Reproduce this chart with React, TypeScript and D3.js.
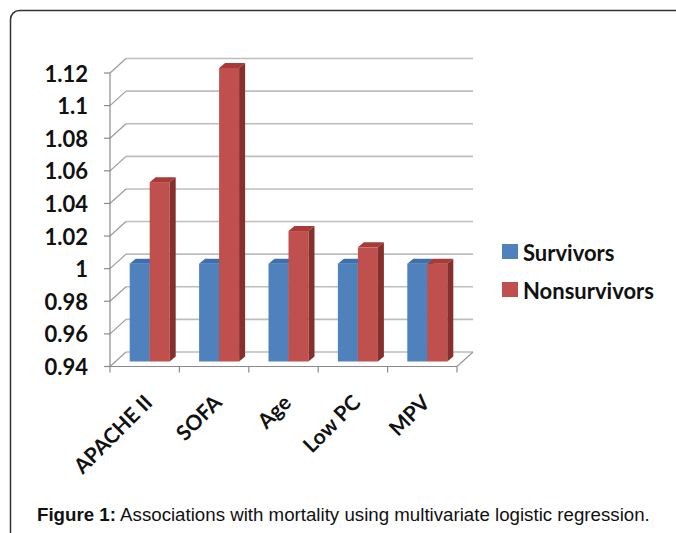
import React from "react";
import * as d3 from "d3";

const categories = ["APACHE II", "SOFA", "Age", "Low PC", "MPV"];
const seriesNames = ["Survivors", "Nonsurvivors"];
const survivors = [1, 1, 1, 1, 1];
const nonsurvivors = [1.05, 1.12, 1.02, 1.01, 1.0];
const yTicks = [0.94, 0.96, 0.98, 1, 1.02, 1.04, 1.06, 1.08, 1.1, 1.12];

const W = 676;
const H = 533;

const colors = [
  { front: "#4F81BD", top: "#3F6FAD", side: "#34598C" },
  { front: "#C0504D", top: "#A73B38", side: "#86302E" },
];

export default function App() {
  const y = d3.scaleLinear().domain([0.94, 1.12]).range([366.5, 73]);
  const x = d3.scaleBand<string>().domain(categories).range([110, 457]).padding(0);
  const sx = d3.scaleBand<string>().domain(seriesNames).range([0, 40]).padding(0);
  const DX = 16, DY = -14.5; // wall depth
  const BX = 5, BY = -5; // bar shift into depth
  const dX = 6, dY = -5; // bar depth
  const bw = x.bandwidth();
  const data = [survivors, nonsurvivors];
  const font = "Lato, 'Open Sans', sans-serif";
  const y0 = y(0.94);

  return (
    <svg width={W} height={H} style={{ position: "absolute", left: 0, top: 0 }} fontFamily={font}>
      <rect x={0} y={0} width={W} height={H} fill="#fff" />
      <rect x={10.5} y={10.5} width={700} height={560} rx={9} fill="none" stroke="#333" strokeWidth={1.5} />
      {/* back wall gridlines */}
      {yTicks.map((t) => (
        <g key={t}>
          <line x1={110 + DX} x2={457 + DX} y1={y(t) + DY} y2={y(t) + DY} stroke="#bdbdbd" strokeWidth={1.6} />
          <line x1={110} x2={110 + DX} y1={y(t)} y2={y(t) + DY} stroke="#9a9a9a" strokeWidth={1.2} />
          <line x1={104} x2={110} y1={y(t)} y2={y(t)} stroke="#8a8a8a" strokeWidth={1.2} />
          <text x={88} y={y(t)} textAnchor="end" dominantBaseline="central" fontSize={22} fontWeight={700} fill="#111">
            {String(t)}
          </text>
        </g>
      ))}
      {/* floor */}
      <line x1={110} x2={457} y1={y0} y2={y0} stroke="#8a8a8a" strokeWidth={1.2} />
      <line x1={457} x2={457 + DX} y1={y0} y2={y0 + DY} stroke="#9a9a9a" strokeWidth={1.2} />
      <line x1={110} x2={110} y1={y(1.12)} y2={y0} stroke="#8a8a8a" strokeWidth={1.2} />
      {categories.map((c) => (
        <line key={c} x1={(x(c) as number) + bw} x2={(x(c) as number) + bw} y1={y0} y2={y0 + 6} stroke="#8a8a8a" strokeWidth={1.2} />
      ))}
      <line x1={110} x2={110} y1={y0} y2={y0 + 6} stroke="#8a8a8a" strokeWidth={1.2} />
      {/* bars */}
      {categories.map((c, i) => {
        const gx = (x(c) as number) + (bw - sx.range()[1]) / 2 + BX;
        return (
          <g key={c}>
            {seriesNames.map((s, k) => {
              const v = data[k][i];
              const x0 = gx + (sx(s) as number);
              const x1 = x0 + sx.bandwidth();
              const yt = y(v) + BY;
              const yb = y0 + BY;
              const col = colors[k];
              return (
                <g key={s}>
                  <rect x={x0} y={yt} width={x1 - x0} height={yb - yt} fill={col.front} />
                  <polygon points={`${x0},${yt} ${x0 + dX},${yt + dY} ${x1 + dX},${yt + dY} ${x1},${yt}`} fill={col.top} />
                  <polygon points={`${x1},${yt} ${x1 + dX},${yt + dY} ${x1 + dX},${yb + dY} ${x1},${yb}`} fill={col.side} />
                </g>
              );
            })}
          </g>
        );
      })}
      {/* x labels */}
      {categories.map((c) => {
        const cx = (x(c) as number) + bw / 2 + 9;
        const cy = 404;
        return (
          <text key={c} x={cx} y={cy} transform={`rotate(-45 ${cx} ${cy})`} textAnchor="end" fontSize={21} fontWeight={700} fill="#111">
            {c}
          </text>
        );
      })}
      {/* legend */}
      {seriesNames.map((s, k) => (
        <g key={s} transform={`translate(502, ${244 + k * 38})`}>
          <rect x={0} y={0} width={16} height={15} fill={colors[k].front} />
          <text x={21} y={8} dominantBaseline="central" fontSize={22} fontWeight={700} fill="#111">
            {s}
          </text>
        </g>
      ))}
      {/* caption */}
      <text x={37} y={521} fontFamily="'Liberation Sans', Arial, sans-serif" fontSize={18.7} fill="#111">
        <tspan fontWeight={700}>Figure 1:</tspan>
        <tspan> Associations with mortality using multivariate logistic regression.</tspan>
      </text>
    </svg>
  );
}
